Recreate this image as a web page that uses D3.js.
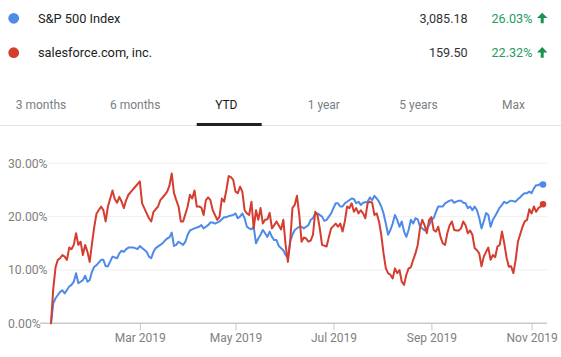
<!DOCTYPE html>
<html>
<head>
<meta charset="utf-8">
<script src="https://cdn.jsdelivr.net/npm/d3@7"></script>
<style>
  html, body { margin: 0; padding: 0; background: #fff; }
  svg { display: block; font-family: Roboto, Arial, sans-serif; }
</style>
</head>
<body>
<svg id="chart" width="561" height="357"></svg>
<script>
// ---------- data ----------
const seriesNames = ["S&P 500 Index", "salesforce.com, inc."];
const lastPrices = ["3,085.18", "159.50"];
const changes = ["26.03%", "22.32%"];
const rangeTabs = ["3 months", "6 months", "YTD", "1 year", "5 years", "Max"];
const selectedTab = "YTD";

// trading-day index since start of 2019, % change YTD
const spDay = [0,1,2,3,4,5,6,8,9,10,11,12,13,14,15,16,17,18,19,20,22,23,24,25,26,27,29,30,31,32,33,34,36,37,38,39,40,42,43,44,45,46,48,49,50,51,52,53,54,55,56,58,59,60,61,62,63,65,66,67,68,69,70,71,72,74,75,76,77,78,80,81,82,83,84,85,86,87,88,89,90,91,92,93,94,95,96,97,98,99,100,102,103,104,105,106,107,109,110,111,112,113,114,115,116,117,119,120,121,123,124,125,126,127,128,129,130,132,133,134,135,136,137,139,140,141,142,143,144,145,146,147,148,149,150,151,152,153,154,155,156,157,158,159,160,161,162,163,164,165,166,167,168,169,170,171,172,173,175,176,177,178,179,180,181,182,183,184,185,186,187,188,189,190,191,192,193,194,195,196,197,198,199,200,201,202,204,205,206,207,208,209,210,211,212,213,214,215,216];
const spPct = [0,3.75,4.7,5.3,5.9,6.2,5.6,6.9,7.2,7.8,9.4,7.5,7.8,8.1,8.9,7.8,8.1,9.7,10.6,10.9,11.9,11.9,10.7,10.7,11.6,12.5,12.2,13.1,13.6,13.4,13.9,14.2,14.2,14.1,13.9,14.5,14.1,13.4,12.5,12.2,13.4,14.1,14.7,15,15.5,15.9,16.1,17,14.5,14.7,15.3,14.7,15.3,16.6,17.4,17.6,17.8,18.1,18.4,17.8,18.1,18.4,18.9,18.9,18.7,19.1,19.5,19.9,19.9,20.1,20.3,20.6,19.7,20,20.6,19.7,18.1,17.8,17.6,18.1,15,15.9,16.6,17.5,16.9,16.2,17.2,16.2,15.6,15.6,14.5,13.7,12.8,12.2,15.3,16.6,17.5,18.1,18.1,17.8,18.1,18.4,19.4,19.7,20.6,20.6,20,19.2,19.4,20.6,21.6,22.5,22.5,21.9,21.9,22.5,22.8,23.4,23.3,22.5,22.8,22.2,22.6,22.8,23.6,23.1,23.9,23.4,22.8,21.9,20.6,18.7,16.6,17.5,18.7,20.3,19.4,18.1,19.1,17.2,16.2,17.5,19.4,18.7,19.7,19.5,18.1,17.8,17.4,17.8,18.4,19.5,19.7,20.9,21.9,21.9,21.9,22.5,23,23.1,22.6,22.8,23,23,22.6,22.5,21.6,21.9,21.2,21.9,21.2,19.8,17.8,19.1,20.7,20.3,18.1,19.4,20.1,20.9,21.7,22.2,22.8,22.5,22.8,23,22.8,23.3,23.6,24.1,24.4,24.4,24.7,24.4,25.3,25.9,25.9,26.2,26.03];

const crmDay = [0,1,2,3,4,5,6,7,8,9,10,11,12,13,14,15,16,17,18,19,20,22,23,24,25,27,28,29,30,31,32,33,34,36,37,39,40,42,43,44,45,47,48,50,51,52,53,54,55,56,57,58,60,61,62,63,64,65,66,67,68,69,70,71,73,74,75,76,77,78,79,80,81,82,83,84,85,86,87,88,89,90,91,92,93,94,95,96,97,98,99,101,102,103,104,105,106,107,108,109,110,111,112,113,114,115,116,117,118,119,121,122,123,125,126,127,128,129,130,131,132,133,134,135,136,137,138,139,140,141,142,143,144,145,146,147,148,149,150,151,152,153,154,155,156,157,158,159,160,161,162,163,164,165,166,167,168,169,170,171,172,173,174,175,176,177,178,179,180,181,182,183,184,185,186,187,188,189,190,191,192,193,194,195,196,197,198,199,200,201,202,203,204,205,207,208,209,210,211,212,213,214,215,216];
const crmPct = [0,6.5,10.5,11.9,12.2,12.8,12.5,11.9,14.2,13.9,14.7,16.9,14.7,15.3,12.8,14.7,13.4,11.5,15,18.1,20.6,21.9,21.2,19.1,21.9,24.9,23.3,22.6,23.7,22.8,21.6,23.1,24.1,25.1,25.6,26.6,22.5,20.6,19.7,19.1,20.9,21.9,23.1,24.1,24.7,25.8,28.1,24.4,23.1,21.9,19.1,19.1,21.9,24.1,23.4,24.9,21.9,21.9,21.7,20.3,23.1,23.6,23.1,21.2,19.4,20,23.4,22.8,25,27.6,27.4,26.9,24.7,24.4,25.6,24.7,21.2,20.6,20.3,22.8,17.8,21.2,19.4,21.6,18.7,19.4,19.5,20.7,17.8,18.4,19.1,17.6,19.4,14.7,11.5,15.3,21.6,22.2,23.9,20.3,15.3,16.1,15.9,15.3,15.5,16.6,20.9,20.3,17.8,14.7,14.4,16.2,17.8,18.7,18.1,18.7,17.2,19.1,21.9,21.6,22.5,20.9,21.6,20.6,21.2,20.6,19.7,22.5,22.8,22.6,20.3,20.6,19.1,16.6,13.1,10.3,9.4,9.1,8.4,10.3,9.4,10,7.8,7.2,9.1,10.3,10.5,11.9,13.1,14.7,17.8,19.4,18.4,16.9,19.4,19.9,17.5,17.2,18.1,16.2,15,14.7,16.9,18.4,19.1,17.5,17.4,17.4,17.8,19.1,18.4,16.9,17.4,16.6,14.1,13.7,13.1,10.7,12.5,13.4,14.2,11.9,12.8,12.4,14.4,14.7,17.2,15,12.3,10.6,10.7,9.4,11.9,15.3,18.1,19.1,19.4,21.4,20.6,21.9,20.9,21.6,21.9,22.32];

const lastDay = 216;
const yTicks = [0, 10, 20, 30];
const monthTickDays = [39, 81, 124, 167, 211];
const monthTickLabels = ["Mar 2019", "May 2019", "Jul 2019", "Sep 2019", "Nov 2019"];

// ---------- layout / style ----------
const colors = ["#4f8ae9", "#d43d2f"];
const green = "#239a62";
const tabCenters = [41, 135.2, 226.3, 323.8, 418.6, 513.4];

const svg = d3.select("#chart");

// header rows
const rowY = [18.3, 52.7];
seriesNames.forEach((name, i) => {
  const g = svg.append("g");
  g.append("circle").attr("cx", 13.7).attr("cy", rowY[i]).attr("r", 5.4).attr("fill", colors[i]);
  g.append("text").attr("x", 38).attr("y", rowY[i] + 4.3)
    .attr("font-size", 12.8).attr("fill", "#222").text(name);
  g.append("text").attr("x", 467.7).attr("y", rowY[i] + 4.6).attr("text-anchor", "end")
    .attr("font-size", 12.6).attr("fill", "#333").text(lastPrices[i]);
  g.append("text").attr("x", 491.5).attr("y", rowY[i] + 4.6)
    .attr("font-size", 12.6).attr("fill", green).text(changes[i]);
  // bold up arrow
  const ax = 537, ay = rowY[i] - 5.6;
  g.append("path")
    .attr("d", `M${ax + 5.2},${ay} L${ax + 10.4},${ay + 5.4} L${ax + 6.7},${ay + 5.4} L${ax + 6.7},${ay + 10.6} L${ax + 3.7},${ay + 10.6} L${ax + 3.7},${ay + 5.4} L${ax},${ay + 5.4} Z`)
    .attr("fill", "#17934f");
});

// range tabs
rangeTabs.forEach((t, i) => {
  const sel = t === selectedTab;
  svg.append("text").attr("x", tabCenters[i]).attr("y", 108.5).attr("text-anchor", "middle")
    .attr("font-size", 12).attr("font-weight", 400)
    .attr("fill", sel ? "#1a1a1a" : "#7a7e83").text(t);
});
svg.append("line").attr("x1", 0).attr("x2", 561).attr("y1", 125.5).attr("y2", 125.5)
  .attr("stroke", "#e3e3e3").attr("stroke-width", 1);
const selI = rangeTabs.indexOf(selectedTab);
svg.append("rect").attr("x", tabCenters[selI] - 29.6).attr("y", 123).attr("width", 65).attr("height", 3)
  .attr("fill", "#202124");

// scales
const x = d3.scaleLinear().domain([0, lastDay]).range([51, 543]);
const y = d3.scaleLinear().domain([0, 30]).range([323.3, 163.3]);

// gridlines
svg.append("g").selectAll("line").data(yTicks.filter(d => d > 0)).join("line")
  .attr("x1", 48).attr("x2", 547).attr("y1", d => y(d)).attr("y2", d => y(d))
  .attr("stroke", "#f0f0f0").attr("stroke-width", 1);

// y labels
svg.append("g").selectAll("text").data(yTicks).join("text")
  .attr("x", 8).attr("y", d => y(d)).attr("dy", "0.35em")
  .attr("font-size", 12.2).attr("fill", "#808080").text(d => d3.format(".2f")(d) + "%");

// baseline axis
svg.append("line").attr("x1", 40).attr("x2", 547).attr("y1", y(0)).attr("y2", y(0))
  .attr("stroke", "#cacaca").attr("stroke-width", 1.5);

// x axis ticks
const xg = svg.append("g").attr("transform", `translate(0,${y(0)})`)
  .call(d3.axisBottom(x).tickValues(monthTickDays)
    .tickFormat((d, i) => monthTickLabels[i]).tickSize(7).tickPadding(3));
xg.select(".domain").remove();
xg.selectAll(".tick line").attr("stroke", "#c8c8c8");
xg.selectAll(".tick text").attr("font-size", 12).attr("fill", "#808080")
  .attr("font-family", "Roboto, Arial, sans-serif");

// lines
const line = d3.line().x(d => x(d[0])).y(d => y(d[1]));
const seriesData = [
  d3.zip(spDay, spPct),
  d3.zip(crmDay, crmPct)
];
seriesData.forEach((data, i) => {
  svg.append("path").datum(data).attr("d", line)
    .attr("fill", "none").attr("stroke", colors[i]).attr("stroke-width", 2)
    .attr("stroke-linejoin", "round").attr("stroke-linecap", "round");
  const last = data[data.length - 1];
  svg.append("circle").attr("cx", x(last[0])).attr("cy", y(last[1])).attr("r", 3.3)
    .attr("fill", colors[i]);
});
</script>
</body>
</html>
